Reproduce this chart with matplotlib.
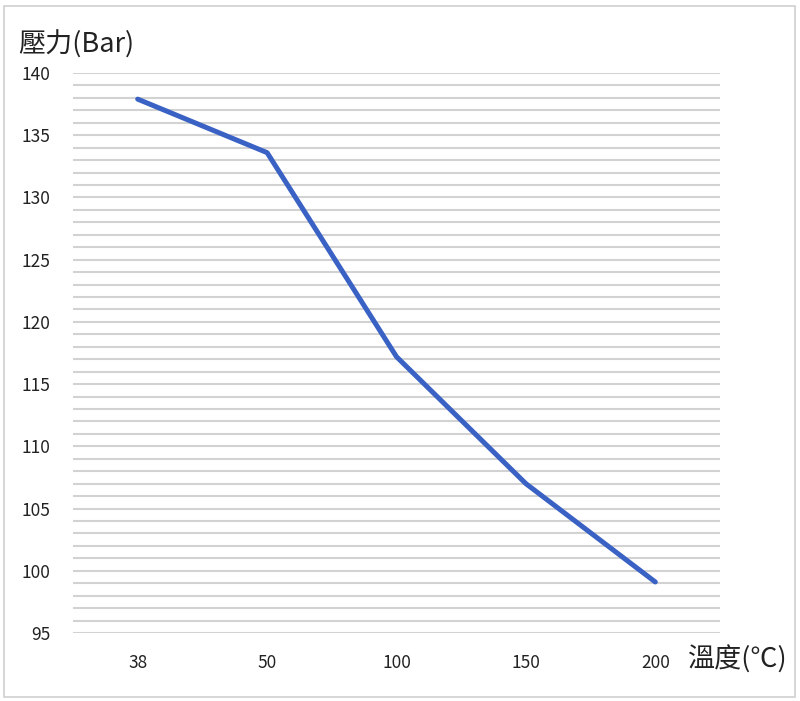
import matplotlib
matplotlib.use("Agg")
import matplotlib.pyplot as plt
from matplotlib.patches import Rectangle
import numpy as np

plt.rcParams['font.family'] = ['Noto Sans CJK TC', 'DejaVu Sans']

# data
temps = ['38', '50', '100', '150', '200']
pressure = [137.9, 133.6, 117.2, 107.0, 99.1]
y_ticks = [95, 100, 105, 110, 115, 120, 125, 130, 135, 140]

fig = plt.figure(figsize=(8, 7.01), dpi=100)
ax = fig.add_axes([73 / 800, 1 - 633 / 701, (720 - 73) / 800, (633 - 73) / 701])

x = np.arange(len(temps))
# minor gridlines every 1 unit
for v in range(95, 141):
    ax.axhline(v, color='#d2d2d2', lw=1.5, zorder=1)

ax.plot(x, pressure, color='#3a62c4', lw=3.6, solid_capstyle='round',
        solid_joinstyle='round', zorder=3)

ax.set_xlim(-0.5, len(temps) - 0.5)
ax.set_ylim(95, 140)
ax.set_xticks(x)
ax.set_xticklabels(temps)
ax.set_yticks(y_ticks)
ax.tick_params(length=0, labelsize=12.5, colors='#222222')
ax.tick_params(axis='x', pad=15)
ax.tick_params(axis='y', pad=16)
for s in ax.spines.values():
    s.set_visible(False)

fig.text(18 / 800, 1 - 45 / 701, '壓力(Bar)', fontsize=19.5, va='center', ha='left', color='#222222')
fig.text(687 / 800, 1 - 660 / 701, '溫度(℃)', fontsize=19.5, va='center', ha='left', color='#222222')

# outer chart border
fig.patches.append(Rectangle((4 / 800, 4 / 701), 791 / 800, 691 / 701, transform=fig.transFigure,
                             fill=False, edgecolor='#d0d0d0', lw=1.2))

fig.savefig('out.png', dpi=100)
